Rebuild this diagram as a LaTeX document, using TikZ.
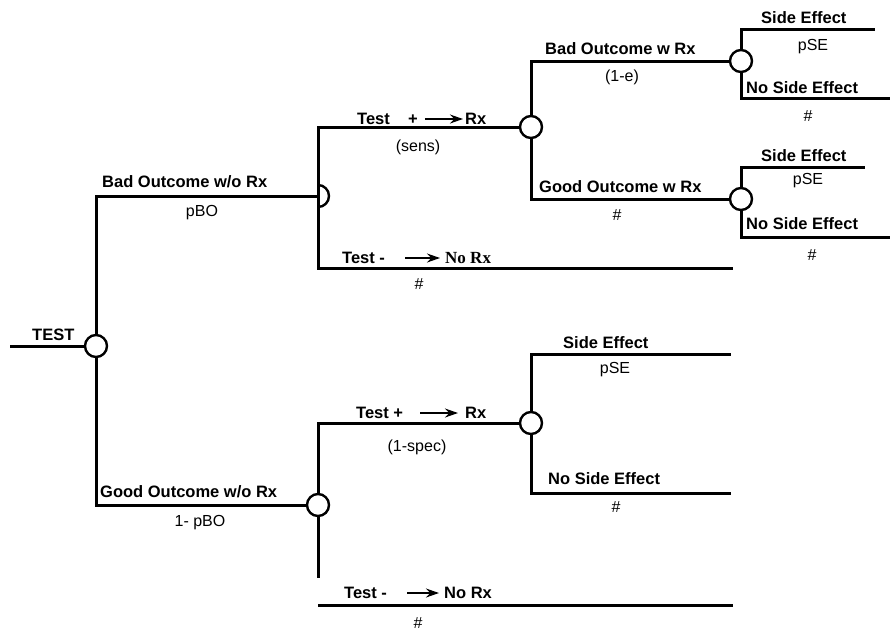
\documentclass[tikz,border=0pt]{standalone}
\usepackage{fontspec}
\setmainfont{Liberation Sans}
\newfontfamily\serifb{Liberation Serif}
\usetikzlibrary{arrows.meta,calc}
\begin{document}
\begin{tikzpicture}[x=1pt,y=-1pt,
  branch/.style={line width=3pt},
  chance/.style={circle,draw,fill=white,line width=2.4pt,minimum size=22pt,inner sep=0pt},
  lbl/.style={font=\fontsize{16.5}{18}\selectfont\bfseries,inner sep=0pt,anchor=west},
  prob/.style={font=\fontsize{16}{18}\selectfont,inner sep=0pt},
  txtarrow/.style={line width=1.3pt,-{Stealth[length=13pt,width=9pt]}}]
\useasboundingbox (0,0) rectangle (891,633);
% coordinates of branch ends
\coordinate (start) at (10,346);
\coordinate (c2) at (318,196);
\coordinate (e1) at (733,268);
\coordinate (e2) at (875,29);
\coordinate (e3) at (890,98);
\coordinate (e4) at (865,167);
\coordinate (e5) at (890,237);
\coordinate (c7b) at (318,578);
\coordinate (e6) at (318,605);
\coordinate (e7) at (733,605);
\coordinate (e8) at (731,354);
\coordinate (e9) at (731,493);
% chance nodes
\node[chance] (c1) at (96,346) {};
\node[chance] (c3) at (531,127) {};
\node[chance] (c4) at (741,61) {};
\node[chance] (c5) at (741,199) {};
\node[chance] (c6) at (531,423) {};
\node[chance] (c7) at (318,505) {};
% branches
\draw[branch] (start) -- (c1);
\draw[branch] (c1.north) |- (c2);
\draw[branch] (c1.south) |- (c7);
\draw[branch] (c3) -| (c2) |- (e1);
\draw[line width=2.4pt] ($(c2)+(0,-11)$) arc[start angle=-90,end angle=90,radius=11];
\draw[branch] (c3.north) |- (c4);
\draw[branch] (c3.south) |- (c5);
\draw[branch] (c4.north) |- (e2);
\draw[branch] (c4.south) |- (e3);
\draw[branch] (c5.north) |- (e4);
\draw[branch] (c5.south) |- (e5);
\draw[branch] (c7.north) |- (c6);
\draw[branch] (c7.south) -- (c7b);
\draw[branch] (e6) -- (e7);
\draw[branch] (c6.north) |- (e8);
\draw[branch] (c6.south) |- (e9);
% labels, upper half
\node[lbl] (lTest) at (32,335) {TEST};
\node[lbl] (lBOwo) at (102,182) {Bad Outcome w/o Rx};
\node[prob] (pBO) at (202,213) {pBO};
\node[lbl] (tp1) at (357,119) {Test\hspace{1.1em}+};
\node[lbl] (rx1) at (465,119) {Rx};
\draw[txtarrow] ([xshift=7pt]tp1.east) -- ([xshift=-2pt]rx1.west);
\node[prob] (sens) at (418,147) {(sens)};
\node[lbl] (tm1) at (342,258) {Test -};
\node[lbl,font=\fontsize{17}{19}\selectfont\serifb\bfseries] (norx1) at (445,258) {No Rx};
\draw[txtarrow] ([xshift=20pt]tm1.east) -- ([xshift=-5pt]norx1.west);
\node[prob] (h1) at (419,284) {\#};
\node[lbl] (lBOw) at (545,49) {Bad Outcome w Rx};
\node[prob] (oneE) at (622,77) {(1-e)};
\node[lbl] (lGOw) at (539,187) {Good Outcome w Rx};
\node[prob] (h2) at (617,215) {\#};
\node[lbl] (se1) at (761,18) {Side Effect};
\node[prob] (pse1) at (813,47) {pSE};
\node[lbl] (nse1) at (746,88) {No Side Effect};
\node[prob] (h3) at (808,116) {\#};
\node[lbl] (se2) at (761,156) {Side Effect};
\node[prob] (pse2) at (808,181) {pSE};
\node[lbl] (nse2) at (746,224) {No Side Effect};
\node[prob] (h4) at (812,255) {\#};
% labels, lower half
\node[lbl] (tp2) at (356,413) {Test +};
\node[lbl] (rx2) at (465,413) {Rx};
\draw[txtarrow] ([xshift=17pt]tp2.east) -- ([xshift=-7pt]rx2.west);
\node[prob] (spec) at (417,447) {(1-spec)};
\node[lbl] (se3) at (563,343) {Side Effect};
\node[prob] (pse3) at (615,370) {pSE};
\node[lbl] (nse3) at (548,479) {No Side Effect};
\node[prob] (h5) at (616,507) {\#};
\node[lbl] (lGOwo) at (100,492) {Good Outcome w/o Rx};
\node[prob] (pBO2) at (200,523) {1- pBO};
\node[lbl] (tm2) at (344,593) {Test -};
\node[lbl] (norx2) at (444,593) {No Rx};
\draw[txtarrow] ([xshift=20pt]tm2.east) -- ([xshift=-5pt]norx2.west);
\node[prob] (h6) at (418,623) {\#};
\end{tikzpicture}
\end{document}
